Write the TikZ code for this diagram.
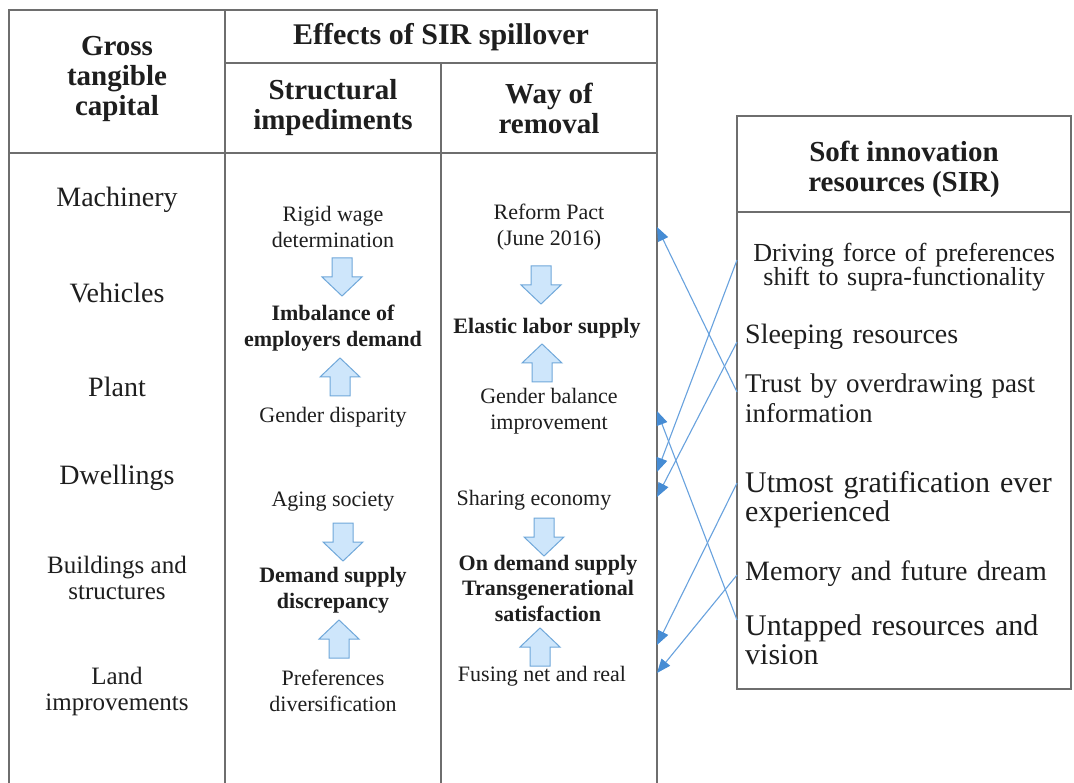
\documentclass[tikz,border=0pt]{standalone}
\usepackage{fontspec}
\setmainfont{Liberation Serif}
\usetikzlibrary{arrows.meta,positioning}

\definecolor{rulegray}{RGB}{110,110,110}
\definecolor{ink}{RGB}{30,30,30}
\definecolor{pale}{RGB}{206,230,251}
\definecolor{rim}{RGB}{112,168,218}
\definecolor{spillblue}{RGB}{104,162,222}
\definecolor{tipblue}{RGB}{70,140,212}

\tikzset{
  rule line/.style = {draw=rulegray, line width=1.8pt},
  basic/.style     = {inner sep=0pt, text=ink, align=center},
  col head/.style  = {basic, font=\bfseries\fontsize{29}{30}\selectfont},
  asset/.style     = {basic, font=\fontsize{28}{30}\selectfont},
  asset small/.style = {basic, font=\fontsize{25}{26}\selectfont},
  cause/.style     = {basic, font=\fontsize{22}{26}\selectfont},
  effect/.style    = {basic, font=\bfseries\fontsize{22}{25.5}\selectfont},
  sir/.style       = {basic, anchor=west, inner xsep=8pt, text width=318pt,
                      align=left, font=\fontsize{27}{30}\selectfont},
  sir big/.style   = {sir, font=\fontsize{30}{29}\selectfont},
  spill/.style     = {draw=spillblue, line width=1.1pt,
                      -{Triangle[length=14pt,width=11pt,color=tipblue]}},
  down arrow/.pic  = {\draw[draw=rim, fill=pale, line width=1pt]
      (-10,0) -- (10,0) -- (10,19) -- (20,19) -- (0,38) -- (-20,19) -- (-10,19) -- cycle;},
  up arrow/.pic    = {\draw[draw=rim, fill=pale, line width=1pt]
      (-10,38) -- (10,38) -- (10,19) -- (20,19) -- (0,0) -- (-20,19) -- (-10,19) -- cycle;}
}

\begin{document}
\begin{tikzpicture}[x=1pt, y=-1pt]

  \fill[white] (0,0) rectangle (1074,783);
  \useasboundingbox (0,0) rectangle (1074,783);

  % the table on the left
  \draw[rule line] (9,783) -- (9,10) -- (657,10) -- (657,783);
  \draw[rule line] (225,10) -- (225,783);
  \draw[rule line] (441,63) -- (441,783);
  \draw[rule line] (225,63) -- (657,63);
  \draw[rule line] (9,153) -- (657,153);

  % header row
  \node[col head] (gross) at (117,79) {Gross\\tangible\\capital};
  \node[col head, font=\bfseries\fontsize{30}{30}\selectfont] (effects) at (441,37)
    {Effects of SIR spillover};
  \node[col head] (struct) at (333,108) {Structural\\impediments};
  \node[col head] (way) at (549,108) {Way of\\removal};

  % gross tangible capital
  \foreach \name/\y/\txt in {mach/200/Machinery, veh/293/Vehicles,
                             plant/387/Plant, dwell/478/Dwellings}
    \node[asset] (\name) at (117,\y) {\txt};
  \node[asset small] (build) at (117,578) {Buildings and\\structures};
  \node[asset small] (land) at (117,691) {Land\\improvements};

  % structural impediments
  \node[cause] (rigid) at (333,227) {Rigid wage\\determination};
  \pic at (342,258) {down arrow};
  \node[effect] (imbal) at (333,328) {Imbalance of\\employers demand};
  \pic at (340,358) {up arrow};
  \node[cause] (gender) at (333,417) {Gender disparity};

  \node[cause] (aging) at (333,502) {Aging society};
  \pic at (343,523) {down arrow};
  \node[effect] (discrep) at (333,590) {Demand supply\\discrepancy};
  \pic at (339,620) {up arrow};
  \node[cause] (prefs) at (333,691) {Preferences\\diversification};

  % way of removal
  \node[cause] (reform) at (549,227) {Reform Pact\\(June 2016)};
  \pic at (541,266) {down arrow};
  \node[effect] (elastic) at (547,328) {Elastic labor supply};
  \pic at (542,344) {up arrow};
  \node[cause] (balance) at (549,411) {Gender balance\\improvement};

  \node[cause] (sharing) at (534,500) {Sharing economy};
  \pic at (544,518) {down arrow};
  \node[effect] (ondemand) at (548,588) {On demand supply\\Transgenerational\\satisfaction};
  \pic at (540,628) {up arrow};
  \node[cause] (fusing) at (542,676) {Fusing net and real};

  % soft innovation resources
  \draw[rule line] (737,116) rectangle (1071,689);
  \draw[rule line] (737,212) -- (1071,212);
  \node[col head] (sirhead) at (904,169) {Soft innovation\\resources (SIR)};

  \node[sir, align=center, font=\fontsize{26}{24}\selectfont] (s1) at (737,267)
    {Driving force of preferences\\shift to supra-functionality};
  \node[sir, font=\fontsize{28}{30}\selectfont] (s2) at (737,337) {Sleeping resources};
  \node[sir] (s3) at (737,398) {Trust by overdrawing past\\information};
  \node[sir big] (s4) at (737,500) {Utmost gratification ever\\experienced};
  \node[sir, font=\fontsize{28}{30}\selectfont] (s5) at (737,574) {Memory and future dream};
  \node[sir big] (s6) at (737,640) {Untapped resources and\\vision};

  % where the spillover lines leave and land
  \coordinate (f1) at ([yshift=7pt]s1.west);
  \coordinate (f2) at ([yshift=-5pt]s2.west);
  \coordinate (f3) at ([yshift=6pt]s3.west);
  \coordinate (f4) at ([yshift=17pt]s4.west);
  \coordinate (f5) at ([yshift=-1pt]s5.west);
  \coordinate (f6) at ([yshift=20pt]s6.west);

  \coordinate (t1) at (reform.center -| 657,0);
  \coordinate (t2) at (balance.center -| 657,0);
  \coordinate (t3) at ([yshift=28pt]sharing.center -| 657,0);
  \coordinate (t4) at ([yshift=3pt]sharing.center -| 657,0);
  \coordinate (t5) at ([yshift=31pt]fusing.center -| 657,0);
  \coordinate (t6) at ([yshift=3pt]fusing.center -| 657,0);

  \foreach \from/\to in {f1/t3, f2/t4, f3/t1, f4/t5, f5/t6, f6/t2}
    \draw[spill] (\from) -- (\to);

\end{tikzpicture}
\end{document}
